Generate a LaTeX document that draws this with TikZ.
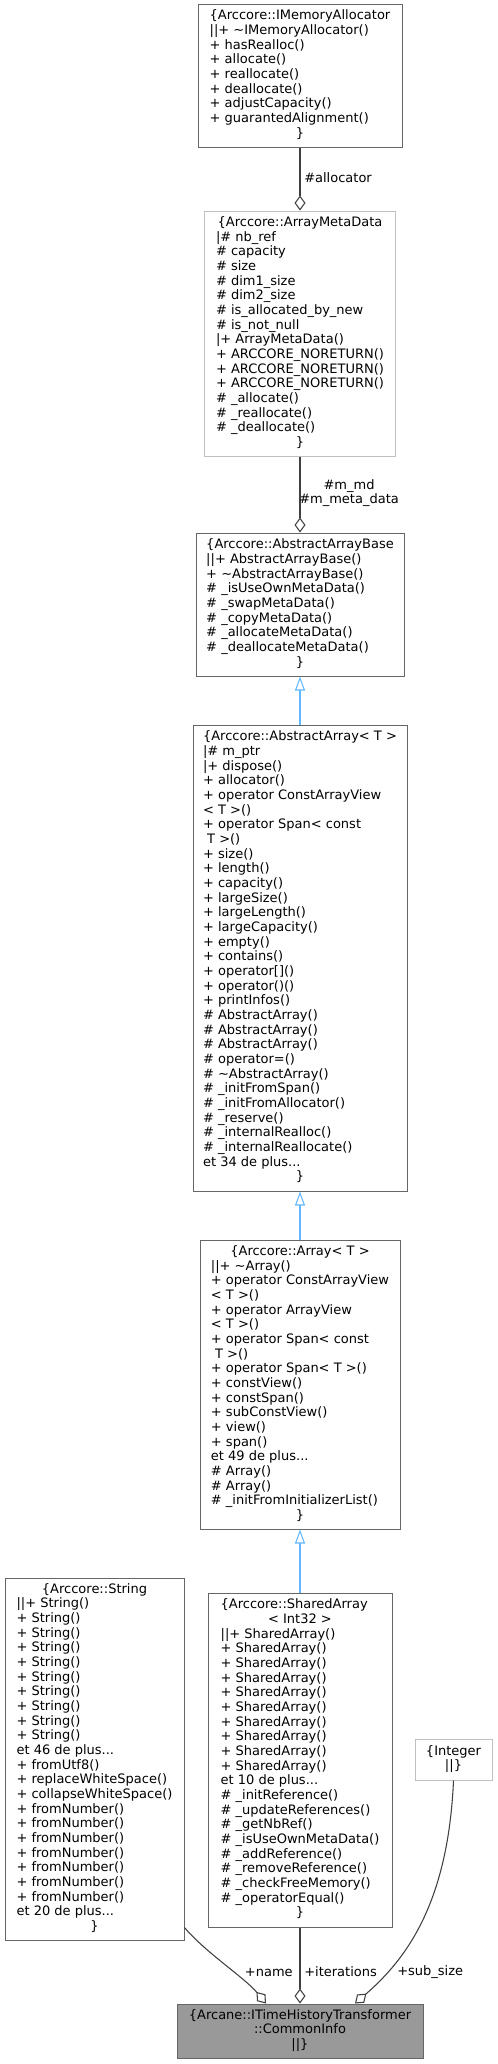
\documentclass[tikz,border=0pt]{standalone}
\usepackage{fontspec}
\setmainfont{DejaVu Sans}
\usetikzlibrary{arrows.meta,calc}
\definecolor{cdark}{HTML}{666666}
\definecolor{clight}{HTML}{BFBFBF}
\definecolor{cedge}{HTML}{404040}
\definecolor{cinh}{HTML}{63B8FF}
\definecolor{cfill}{HTML}{999999}
\newcommand\ctr[1]{\multicolumn{1}{@{}c@{}}{#1}}
\newcommand\tl{\textasciitilde}
\begin{document}
\begin{tikzpicture}[x=0.75pt,y=-0.75pt,
  txt/.style={font=\fontsize{9.75}{11}\selectfont},
  cls/.style={txt, draw=cdark, fill=white, line width=0.75pt, inner sep=0pt},
  clsl/.style={cls, draw=clight},
  clscur/.style={cls, fill=cfill},
  lbl/.style={txt, inner sep=0pt},
  comp/.style={draw=cedge, line width=0.8pt, -{Diamond[length=11.25pt,width=8.25pt,fill=white]}},
  inh/.style={draw=cinh, line width=0.8pt, -{Triangle[length=10.5pt,width=7.5pt,fill=white]}}]
\useasboundingbox (0,0) rectangle (497,2064);

\node[cls, minimum width=153pt, minimum height=107.25pt] (alloc) at (300,75.5) {\begin{tabular}{@{}l@{}}\ctr{\{Arccore::IMemoryAllocator}\\
||+ \tl IMemoryAllocator()\\
+ hasRealloc()\\
+ allocate()\\
+ reallocate()\\
+ deallocate()\\
+ adjustCapacity()\\
+ guarantedAlignment()\\
\ctr{\}}\end{tabular}};

\node[clsl, minimum width=143.25pt, minimum height=183.75pt] (meta) at (300,333.5) {\begin{tabular}{@{}l@{}}\ctr{\{Arccore::ArrayMetaData}\\
|\# nb\_ref\\
\# capacity\\
\# size\\
\# dim1\_size\\
\# dim2\_size\\
\# is\_allocated\_by\_new\\
\# is\_not\_null\\
|+ ArrayMetaData()\\
+ ARCCORE\_NORETURN()\\
+ ARCCORE\_NORETURN()\\
+ ARCCORE\_NORETURN()\\
\# \_allocate()\\
\# \_reallocate()\\
\# \_deallocate()\\
\ctr{\}}\end{tabular}};

\node[cls, minimum width=156pt, minimum height=107.25pt] (base) at (300,604.5) {\begin{tabular}{@{}l@{}}\ctr{\{Arccore::AbstractArrayBase}\\
||+ AbstractArrayBase()\\
+ \tl AbstractArrayBase()\\
\# \_isUseOwnMetaData()\\
\# \_swapMetaData()\\
\# \_copyMetaData()\\
\# \_allocateMetaData()\\
\# \_deallocateMetaData()\\
\ctr{\}}\end{tabular}};

\node[cls, minimum width=160.5pt, minimum height=349.5pt] (abs) at (300,958) {\begin{tabular}{@{}l@{}}\ctr{\{Arccore::AbstractArray< T >}\\
|\# m\_ptr\\
|+ dispose()\\
+ allocator()\\
+ operator ConstArrayView\\
< T >()\\
+ operator Span< const\\
\ T >()\\
+ size()\\
+ length()\\
+ capacity()\\
+ largeSize()\\
+ largeLength()\\
+ largeCapacity()\\
+ empty()\\
+ contains()\\
+ operator[]()\\
+ operator()()\\
+ printInfos()\\
\# AbstractArray()\\
\# AbstractArray()\\
\# AbstractArray()\\
\# operator=()\\
\# \tl AbstractArray()\\
\# \_initFromSpan()\\
\# \_initFromAllocator()\\
\# \_reserve()\\
\# \_internalRealloc()\\
\# \_internalReallocate()\\
et 34 de plus...\\
\ctr{\}}\end{tabular}};

\node[cls, minimum width=150pt, minimum height=216.75pt] (arr) at (300,1384.5) {\begin{tabular}{@{}l@{}}\ctr{\{Arccore::Array< T >}\\
||+ \tl Array()\\
+ operator ConstArrayView\\
< T >()\\
+ operator ArrayView\\
< T >()\\
+ operator Span< const\\
\ T >()\\
+ operator Span< T >()\\
+ constView()\\
+ constSpan()\\
+ subConstView()\\
+ view()\\
+ span()\\
et 49 de plus...\\
\# Array()\\
\# Array()\\
\# \_initFromInitializerList()\\
\ctr{\}}\end{tabular}};

\node[cls, minimum width=138pt, minimum height=250.5pt] (shared) at (300,1760) {\begin{tabular}{@{}l@{}}\{Arccore::SharedArray\\
\ctr{< Int32 >}\\
||+ SharedArray()\\
+ SharedArray()\\
+ SharedArray()\\
+ SharedArray()\\
+ SharedArray()\\
+ SharedArray()\\
+ SharedArray()\\
+ SharedArray()\\
+ SharedArray()\\
+ SharedArray()\\
et 10 de plus...\\
\# \_initReference()\\
\# \_updateReferences()\\
\# \_getNbRef()\\
\# \_isUseOwnMetaData()\\
\# \_addReference()\\
\# \_removeReference()\\
\# \_checkFreeMemory()\\
\# \_operatorEqual()\\
\ctr{\}}\end{tabular}};

\node[cls, minimum width=134.25pt, minimum height=271.5pt] (string) at (94.5,1759) {\begin{tabular}{@{}l@{}}\ctr{\{Arccore::String}\\
||+ String()\\
+ String()\\
+ String()\\
+ String()\\
+ String()\\
+ String()\\
+ String()\\
+ String()\\
+ String()\\
+ String()\\
et 46 de plus...\\
+ fromUtf8()\\
+ replaceWhiteSpace()\\
+ collapseWhiteSpace()\\
+ fromNumber()\\
+ fromNumber()\\
+ fromNumber()\\
+ fromNumber()\\
+ fromNumber()\\
+ fromNumber()\\
+ fromNumber()\\
et 20 de plus...\\
\ctr{\}}\end{tabular}};

\node[clsl, minimum width=57.75pt, minimum height=30.75pt] (integer) at (453.5,1759.5) {\begin{tabular}{@{}c@{}}\{Integer\\ ||\}\end{tabular}};

\node[clscur, minimum width=184.5pt, minimum height=40.5pt] (common) at (300,2031) {\begin{tabular}{@{}c@{}}\{Arcane::ITimeHistoryTransformer\\ ::CommonInfo\\ ||\}\end{tabular}};

% connectors
\draw[comp] (alloc.south) -- (meta.north);
\node[lbl, anchor=west] (lalloc) at (304,178) {\#allocator};

\draw[comp] (meta.south) -- (base.north);
\node[lbl, anchor=west, align=center] (lmd) at (299,493) {\#m\_md\\\#m\_meta\_data};

\draw[inh] (abs.north) -- (base.south);
\draw[inh] (arr.north) -- (abs.south);
\draw[inh] (shared.north) -- (arr.south);

\draw[comp] ([yshift=9.75pt]string.south east) .. controls (205,1952) and (245,1978) .. ([xshift=-25.5pt]common.north);
\node[lbl, anchor=east] (lname) at (293,1972) {+name};

\draw[comp] (shared.south) -- (common.north);
\node[lbl, anchor=west] (liter) at (304,1972) {+iterations};

\draw[comp] (integer.south) .. controls (448,1905) and (405,1960) .. ([xshift=41.25pt]common.north);
\node[lbl, anchor=west] (lsub) at (397,1972) {+sub\_size};
\end{tikzpicture}
\end{document}
